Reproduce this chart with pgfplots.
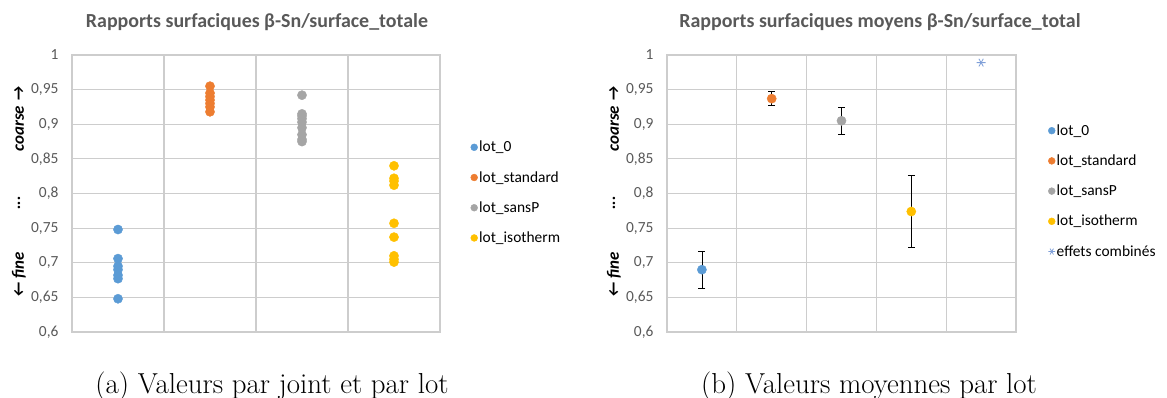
\documentclass[border=0pt]{standalone}
\usepackage{pgfplots}
\pgfplotsset{compat=1.18}
\usepackage{fontspec}
\newfontfamily\carlito{Carlito}
\definecolor{c0}{HTML}{5B9BD5}
\definecolor{c1}{HTML}{ED7D31}
\definecolor{c2}{HTML}{A5A5A5}
\definecolor{c3}{HTML}{FFC000}
\definecolor{c4}{HTML}{7F9FD8}
\definecolor{gridc}{RGB}{205,205,205}
\definecolor{tickc}{HTML}{595959}
\pgfplotsset{
  base/.style={
    scale only axis,
    height=277bp,
    ymin=0.6, ymax=1,
    ytick={0.6,0.65,0.7,0.75,0.8,0.85,0.9,0.95,1},
    yticklabels={{0,6},{0,65},{0,7},{0,75},{0,8},{0,85},{0,9},{0,95},{1}},
    yticklabel style={font=\carlito\fontsize{15.5}{17}\selectfont, text=tickc, xshift=-10bp},
    xticklabels={},
    major tick length=0pt,
    axis line style={draw=gridc, line width=1.2bp},
    grid style={draw=gridc, line width=1.2bp},
    xmajorgrids, ymajorgrids,
    legend cell align=left,
    legend style={draw=none, fill=none, font=\carlito\fontsize{15.5}{18}\selectfont, row sep=15bp,
      inner sep=0pt, nodes={inner sep=1.5bp}},
    legend image post style={scale=0.75},
  },
  pt/.style={only marks, mark=*, mark size=4.6bp, color=#1, mark options={draw=#1, fill=#1}},
}
\begin{document}
\begin{tikzpicture}
\useasboundingbox (0bp,0bp) rectangle (1167bp,-398bp);
% ---------- left chart
\begin{axis}[base, width=368bp, at={(72bp,-332bp)}, anchor=south west,
  xmin=0.5, xmax=4.5, xtick={1.5,2.5,3.5},
  legend style={at={(1.083,0.695)}, anchor=north west}]
\addplot[pt=c0] coordinates {(1,0.748) (1,0.706) (1,0.695) (1,0.690) (1,0.682) (1,0.677) (1,0.648)};
\addlegendentry{lot\_0}
\addplot[pt=c1] coordinates {(2,0.955) (2,0.945) (2,0.940) (2,0.935) (2,0.930) (2,0.925) (2,0.918)};
\addlegendentry{lot\_standard}
\addplot[pt=c2] coordinates {(3,0.942) (3,0.915) (3,0.912) (3,0.908) (3,0.903) (3,0.895) (3,0.885) (3,0.878) (3,0.875)};
\addlegendentry{lot\_sansP}
\addplot[pt=c3] coordinates {(4,0.840) (4,0.822) (4,0.818) (4,0.812) (4,0.757) (4,0.737) (4,0.710) (4,0.705) (4,0.701)};
\addlegendentry{lot\_isotherm}
\end{axis}
% ---------- right chart
\begin{axis}[base, width=349bp, at={(667bp,-332bp)}, anchor=south west,
  xmin=0.5, xmax=5.5, xtick={1.5,2.5,3.5,4.5},
  legend style={at={(1.092,0.755)}, anchor=north west},
  error bars/error mark=|,
  error bars/error bar style={black, line width=0.7bp},
  error bars/error mark options={black, mark size=3.5bp, line width=0.7bp}]
\addplot[pt=c0, error bars/.cd, y dir=both, y explicit] coordinates {(1,0.690) += (0,0.027) -= (0,0.027)};
\addlegendentry{lot\_0}
\addplot[pt=c1, error bars/.cd, y dir=both, y explicit] coordinates {(2,0.937) += (0,0.011) -= (0,0.010)};
\addlegendentry{lot\_standard}
\addplot[pt=c2, error bars/.cd, y dir=both, y explicit] coordinates {(3,0.905) += (0,0.020) -= (0,0.019)};
\addlegendentry{lot\_sansP}
\addplot[pt=c3, error bars/.cd, y dir=both, y explicit] coordinates {(4,0.774) += (0,0.052) -= (0,0.052)};
\addlegendentry{lot\_isotherm}
\addplot[only marks, mark=asterisk, mark size=4.5bp, color=c4, mark options={line width=0.8bp, rotate=90}] coordinates {(5,0.989)};
\addlegendentry{effets combinés}
\end{axis}
% ---------- titles
\node[anchor=base, font=\carlito\bfseries\fontsize{20}{22}\selectfont, text=tickc] at (257bp,-27bp) {Rapports surfaciques β-Sn/surface\_totale};
\node[anchor=base, font=\carlito\bfseries\fontsize{20}{22}\selectfont, text=tickc] at (880bp,-27bp) {Rapports surfaciques moyens β-Sn/surface\_total};
% ---------- y labels
\foreach \xx in {19,614} {
  \node[rotate=90, font=\carlito\bfseries\itshape\fontsize{17}{19}\selectfont] at (\xx bp,-119bp) {coarse →};
  \node[rotate=90, font=\carlito\bfseries\itshape\fontsize{17}{19}\selectfont] at (\xx bp,-203bp) {...};
  \node[rotate=90, font=\carlito\bfseries\itshape\fontsize{17}{19}\selectfont] at (\xx bp,-275bp) {← fine};
}
% ---------- captions
\node[anchor=base, font=\fontsize{29}{33}\selectfont] at (272bp,-393bp) {(a) Valeurs par joint et par lot};
\node[anchor=base, font=\fontsize{29}{33}\selectfont] at (869bp,-393bp) {(b) Valeurs moyennes par lot};
\end{tikzpicture}
\end{document}
